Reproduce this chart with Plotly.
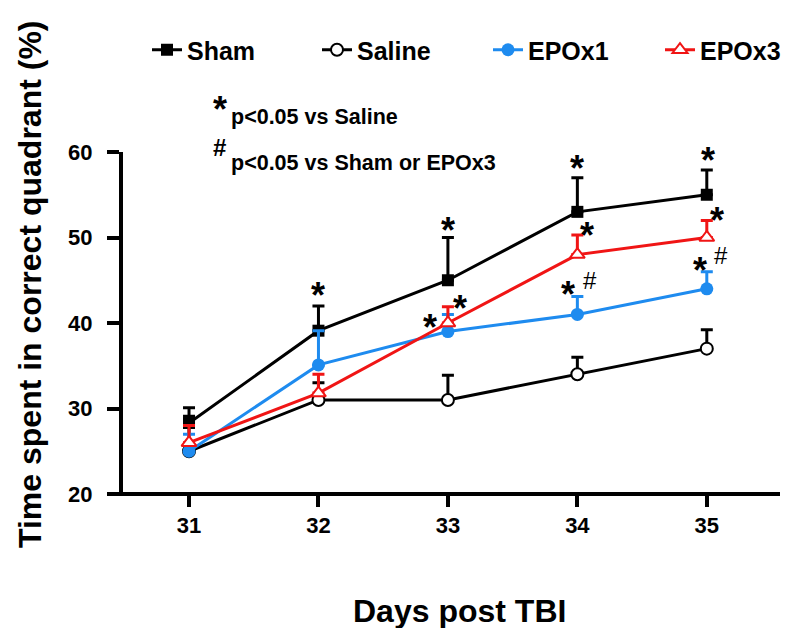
import plotly.graph_objects as go

days = [31, 32, 33, 34, 35]
series_names = ["Sham", "Saline", "EPOx1", "EPOx3"]
sham_mean = [28.3, 39.1, 45.0, 53.0, 55.0]
sham_err = [1.8, 2.9, 5.0, 4.0, 2.9]
saline_mean = [25.0, 31.0, 31.0, 34.0, 37.0]
saline_err = [4.1, 2.0, 2.9, 2.0, 2.2]
epo1_mean = [25.0, 35.1, 39.0, 41.0, 44.0]
epo1_err = [2.0, 4.0, 2.0, 2.1, 2.0]
epo3_mean = [26.0, 31.8, 40.0, 48.0, 50.0]
epo3_err = [2.0, 2.2, 1.9, 2.3, 2.0]

# significance marks: (series index, day index, symbol, dx px, dy px from top of error bar)
sig_marks = [
    (0, 1, "*", 0, 18), (0, 2, "*", 0, 15), (0, 3, "*", 0, 17), (0, 4, "*", 1, 17),
    (3, 2, "*", 12, 6), (2, 2, "*", -18, -5),
    (3, 3, "*", 10, 7), (2, 3, "*", -9, 10), (2, 3, "#", 13, 16),
    (3, 4, "*", 10, 8), (2, 4, "*", -7, 9), (2, 4, "#", 14, 16),
]

FONT = "Liberation Sans"
BLUE = "#1E8BEF"
RED = "#F01515"

means = [sham_mean, saline_mean, epo1_mean, epo3_mean]
errs = [sham_err, saline_err, epo1_err, epo3_err]
colors = ["black", "black", BLUE, RED]
markers = [
    dict(symbol="square", size=12, color="black"),
    dict(symbol="circle", size=12, color="white", line=dict(color="black", width=2)),
    dict(symbol="circle", size=13, color=BLUE),
    dict(symbol="triangle-up", size=13, color="white", line=dict(color=RED, width=2)),
]
legend_ids = ["legend", "legend2", "legend3", "legend4"]
legend_text_x = [187, 357, 528, 700]

L, R, T, B = 115, 30, 144, 142
PW, PH = 800 - L - R, 628 - T - B

def px(xp):
    return (xp - L) / PW

def py(yp):
    return (628 - B - yp) / PH

fig = go.Figure()
for name, m, e, c, mk, lid in zip(series_names, means, errs, colors, markers, legend_ids):
    fig.add_trace(go.Scatter(
        x=days, y=m, name=name, mode="lines+markers",
        line=dict(color=c, width=3), marker=mk,
        error_y=dict(type="data", symmetric=False, array=e, arrayminus=[0] * len(e),
                     color=c, thickness=3, width=6),
        cliponaxis=False, legend=lid,
    ))

ast_size = 36
for si, di, sym, dx, dy in sig_marks:
    top = means[si][di] + errs[si][di]
    if sym == "*":
        fnt = dict(family=FONT, size=ast_size, color="black", weight="bold")
        corr = -8
    else:
        fnt = dict(family=FONT, size=24, color="black")
        corr = 0
    fig.add_annotation(x=days[di], y=top, xref="x", yref="y", text=sym, showarrow=False,
                       xshift=dx, yshift=dy + corr, font=fnt,
                       xanchor="center", yanchor="middle")

# note text
fig.add_annotation(x=px(212), y=py(93), xref="paper", yref="paper", text="*", showarrow=False,
                   font=dict(family=FONT, size=ast_size, color="black", weight="bold"),
                   yshift=-8, xanchor="center", yanchor="middle")
fig.add_annotation(x=px(221), y=py(109), xref="paper", yref="paper", text="p<0.05 vs Saline",
                   showarrow=False, font=dict(family=FONT, size=21.5, color="black", weight="bold"),
                   xanchor="left", yanchor="middle")
fig.add_annotation(x=px(211), y=py(139), xref="paper", yref="paper", text="#", showarrow=False,
                   font=dict(family=FONT, size=24, color="black", weight="bold"),
                   xanchor="center", yanchor="middle")
fig.add_annotation(x=px(221), y=py(155), xref="paper", yref="paper", text="p<0.05 vs Sham or EPOx3",
                   showarrow=False, font=dict(family=FONT, size=21.5, color="black", weight="bold"),
                   xanchor="left", yanchor="middle")

# axis titles
fig.add_annotation(x=px(451), y=py(603), xref="paper", yref="paper", text="Days post TBI",
                   showarrow=False, font=dict(family=FONT, size=32, color="black", weight="bold"),
                   xanchor="center", yanchor="middle")
fig.add_annotation(x=px(22), y=py(276), xref="paper", yref="paper",
                   text="Time spent in correct quadrant (%)", textangle=-90,
                   showarrow=False, font=dict(family=FONT, size=32, color="black", weight="bold"),
                   xanchor="center", yanchor="middle")

# x-axis baseline extending past the y-axis
fig.add_shape(type="line", xref="paper", yref="paper", x0=px(103), x1=px(772), y0=0, y1=0,
              line=dict(color="black", width=4))

legend_style = dict(orientation="h", xanchor="left", yanchor="middle",
                    font=dict(family=FONT, size=25, color="black", weight="bold"),
                    bgcolor="rgba(0,0,0,0)")
layout_legends = {}
for lid, tx in zip(legend_ids, legend_text_x):
    layout_legends[lid] = dict(legend_style, x=px(tx - 48), y=py(42))

fig.update_layout(
    width=800, height=628,
    margin=dict(l=L, r=R, t=T, b=B, autoexpand=False),
    plot_bgcolor="white", paper_bgcolor="white",
    font=dict(family=FONT, color="black"),
    showlegend=True,
    **layout_legends,
    xaxis=dict(range=[30.49, 35.55], tickvals=days, ticktext=[str(d) for d in days],
               showline=False, showgrid=False, zeroline=False,
               ticks="outside", ticklen=12, tickwidth=4, tickcolor="black",
               tickfont=dict(family=FONT, size=22, color="black", weight="bold")),
    yaxis=dict(range=[20, 60], tickvals=[20, 30, 40, 50, 60],
               showline=True, linewidth=4, linecolor="black", showgrid=False, zeroline=False,
               ticks="outside", ticklen=12, tickwidth=4, tickcolor="black", ticklabelstandoff=10,
               tickfont=dict(family=FONT, size=22, color="black", weight="bold")),
)

fig.write_html("out.html")
